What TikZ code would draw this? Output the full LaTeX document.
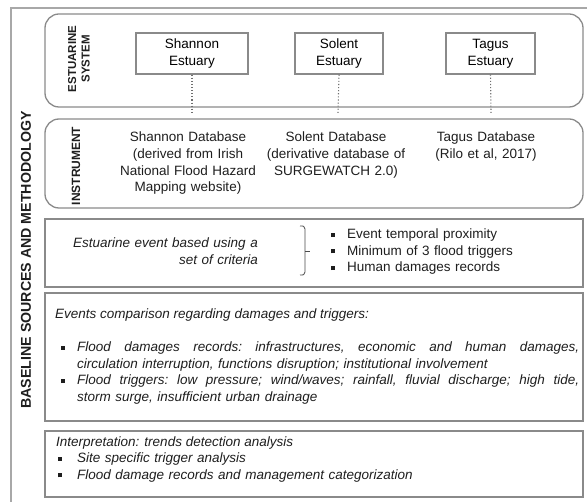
\documentclass[tikz,border=0pt]{standalone}
\usepackage{fontspec}
\setmainfont{Liberation Sans}
\definecolor{boxgray}{HTML}{8A8A8A}
\definecolor{dotgray}{HTML}{707070}
\definecolor{outergray}{HTML}{A8A8A8}
\definecolor{txt}{HTML}{1E1E1E}
\newcommand\bodyfnt{\fontsize{13.5}{16.6}\selectfont}
\newcommand\sqb{\rule[1.6pt]{4pt}{4pt}}
\newcommand\justline[1]{\makebox[502pt][s]{\frenchspacing\spaceskip=0.278em plus 4em\relax\xspaceskip=0.278em plus 4em\relax #1}}
\tikzset{
  frame/.style={draw=boxgray, line width=1.3pt, inner sep=0pt},
  rframe/.style={frame, rounded corners=14pt},
  estbox/.style={frame, align=center, font=\bodyfnt, minimum height=41pt},
  dotline/.style={draw=dotgray, line width=1.1pt, dotted},
  bodytext/.style={font=\bodyfnt, text=txt, inner sep=0pt},
  sidelabel/.style={text=txt, inner sep=0pt, align=center, rotate=90}
}
\begin{document}
\begin{tikzpicture}[x=1pt,y=-1pt]
\useasboundingbox (0,0) rectangle (587,502);
% outer frame (cut by the picture edge)
\draw[draw=outergray, line width=1.8pt] (11,503) -- (11,8) -- (588,8);
\node[rotate=90, font=\fontsize{14.2}{16}\selectfont\bfseries, text=txt, inner sep=0pt] (mainlabel) at (26,260) {BASELINE SOURCES AND METHODOLOGY};

% boxes
\node[rframe, minimum width=538pt, minimum height=93pt] (sysbox) at (314,60.5) {};
\node[rframe, minimum width=538pt, minimum height=89pt] (instbox) at (314,163.5) {};
\node[frame, minimum width=538pt, minimum height=68pt] (critbox) at (314,253) {};
\node[frame, minimum width=538pt, minimum height=128pt] (compbox) at (314,357) {};
\node[frame, minimum width=538pt, minimum height=66pt] (interbox) at (314,464) {};

% side labels
\node[sidelabel, font=\fontsize{11.5}{13.5}\selectfont\bfseries] (syslabel) at (79,59) {ESTUARINE\\SYSTEM};
\node[sidelabel, font=\fontsize{12}{13.5}\selectfont\bfseries] (instlabel) at (76,166) {INSTRUMENT};

% estuaries
\node[estbox, minimum width=112pt] (shannon) at (192,53.5) {Shannon\\Estuary};
\node[estbox, minimum width=88pt] (solent) at (339,53.5) {Solent\\Estuary};
\node[estbox, minimum width=89pt] (tagus) at (490.5,53.5) {Tagus\\Estuary};

\coordinate (shannonend) at (192,113);
\coordinate (solentend) at (338,113);
\coordinate (tagusend) at (491,113);
\draw[dotline] (shannon.south) -- (shannonend);
\draw[dotline] (solent.south) -- (solentend);
\draw[dotline] (tagus.south) -- (tagusend);

% instruments
\node[bodytext, text width=150pt, align=center, anchor=base] (shannondb) at (188,142)
  {Shannon Database\\(derived from Irish\\National Flood Hazard\\Mapping website)};
\node[bodytext, text width=150pt, align=center, anchor=base] (solentdb) at (336,142)
  {Solent Database\\(derivative database of\\SURGEWATCH 2.0)};
\node[bodytext, text width=130pt, align=center, anchor=base] (tagusdb) at (486,142)
  {Tagus Database\\(Rilo et al, 2017)};

% criteria
\node[bodytext, text width=220pt, align=right, anchor=base east, font=\bodyfnt\itshape] (crittext) at (258,247.5)
  {Estuarine event based using a\\set of criteria};
\coordinate (bracetop) at (300,226);
\coordinate (bracebot) at (300,275);
\coordinate (bracetip) at (310,251);
\draw[draw=txt!80, line width=0.8pt] (bracetop) .. controls (304,226) .. (305,229) -- (305,272) .. controls (304,275) .. (bracebot);
\draw[draw=txt!80, line width=0.8pt] (305,251) -- (bracetip);
\node[bodytext, text width=240pt, align=left, anchor=base west] (critlist) at (331,238.5)
  {\makebox[16pt][l]{\sqb}Event temporal proximity\\
   \makebox[16pt][l]{\sqb}Minimum of 3 flood triggers\\
   \makebox[16pt][l]{\sqb}Human damages records};

% comparison
\node[bodytext, font=\bodyfnt\itshape, anchor=base west] (comphead) at (55,318.5)
  {Events comparison regarding damages and triggers:};
\node[bodytext, font=\bodyfnt\itshape, text width=520pt, align=left, anchor=base west] (complist) at (61,351.5)
  {\makebox[16pt][l]{\sqb}\justline{Flood damages records: infrastructures, economic and human damages,}\\
   \hspace*{16pt}circulation interruption, functions disruption; institutional involvement\\
   \makebox[16pt][l]{\sqb}\justline{Flood triggers: low pressure; wind/waves; rainfall, fluvial discharge; high tide,}\\
   \hspace*{16pt}storm surge, insufficient urban drainage};

% interpretation
\node[bodytext, font=\bodyfnt\itshape, anchor=base west] (interhead) at (56,446.5)
  {Interpretation: trends detection analysis};
\node[bodytext, font=\bodyfnt\itshape, text width=520pt, align=left, anchor=base west] (interlist) at (58,462.5)
  {\makebox[19pt][l]{\sqb}Site specific trigger analysis\\
   \makebox[19pt][l]{\sqb}Flood damage records and management categorization};
\end{tikzpicture}
\end{document}
